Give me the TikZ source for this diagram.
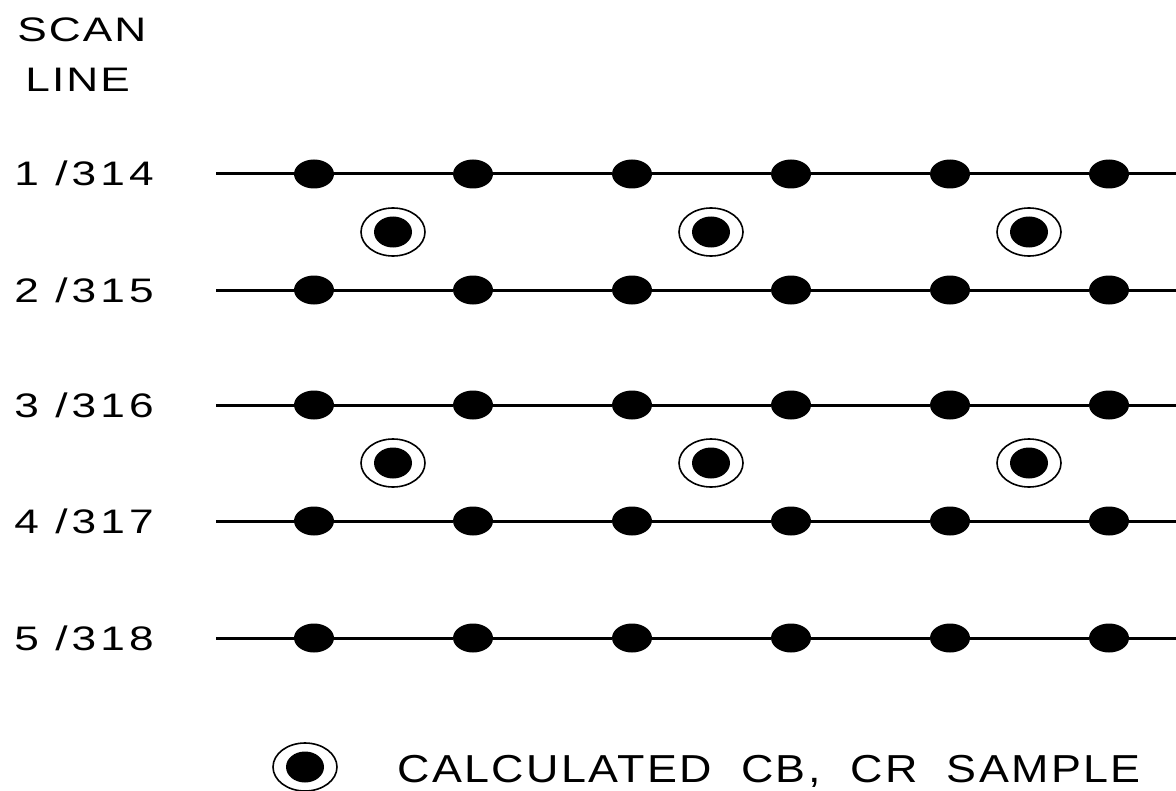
\documentclass[tikz,border=0pt]{standalone}
\usepackage{fontspec}
\usetikzlibrary{shapes.geometric}
\newfontfamily\labfont[FakeStretch=1.3,LetterSpace=12]{Liberation Sans}
\newfontfamily\headfont[FakeStretch=1.3,LetterSpace=6]{Liberation Sans}
\newfontfamily\legfont[FakeStretch=1.15,LetterSpace=6,WordSpace=2]{Liberation Sans}
\begin{document}
\begin{tikzpicture}[x=0.5pt,y=-0.5pt,
  scanline/.style={line width=1.5pt},
  sample/.style={ellipse,fill=black,inner sep=0pt,minimum width=20pt,minimum height=14.5pt},
  calcring/.style={ellipse,draw=black,line width=0.8pt,inner sep=0pt,minimum width=32pt,minimum height=24pt},
  calcdot/.style={ellipse,fill=black,inner sep=0pt,minimum width=19pt,minimum height=15.5pt},
  rowlabel/.style={anchor=base west,inner sep=0pt,font=\labfont\fontsize{17}{20}\selectfont},
  headlabel/.style={anchor=base west,inner sep=0pt,font=\headfont\fontsize{17}{20}\selectfont},
  legtext/.style={anchor=base west,inner sep=0pt,font=\legfont\fontsize{19.5}{22}\selectfont}]
\useasboundingbox (0,0) rectangle (1176,791);

% column heading
\node[headlabel] (hd1) at (17,42) {SCAN};
\node[headlabel] (hd2) at (25,92) {LINE};

% scan lines with their luminance samples
\foreach \r/\yy/\lab in {1/174/{1 /314}, 2/290/{2 /315}, 3/405/{3 /316}, 4/521/{4 /317}, 5/638/{5 /318}}{
  \node[rowlabel] (lab\r) at (14,\yy+12) {\lab};
  \coordinate (s\r) at (216,\yy);
  \coordinate (e\r) at (1176,\yy);
  \foreach \c in {1,...,6}{
    \node[sample] (d\r\c) at ({314+159*(\c-1)},\yy) {};
  }
  \draw[scanline] (s\r) -- (d\r1) -- (d\r2) -- (d\r3) -- (d\r4) -- (d\r5) -- (d\r6) -- (e\r);
}

% calculated chroma samples between line pairs
\foreach \k/\yy in {a/232, b/463}{
  \foreach \c/\xx in {1/393, 2/711, 3/1029}{
    \node[calcring] (ring\k\c) at (\xx,\yy) {};
    \node[calcdot] (cd\k\c) at (\xx,\yy) {};
  }
}

% legend
\node[calcring] (legring) at (305,767) {};
\node[calcdot] (legdot) at (305,767) {};
\node[legtext] (legtxt) at (397,782) {CALCULATED CB, CR SAMPLE};
\end{tikzpicture}
\end{document}
